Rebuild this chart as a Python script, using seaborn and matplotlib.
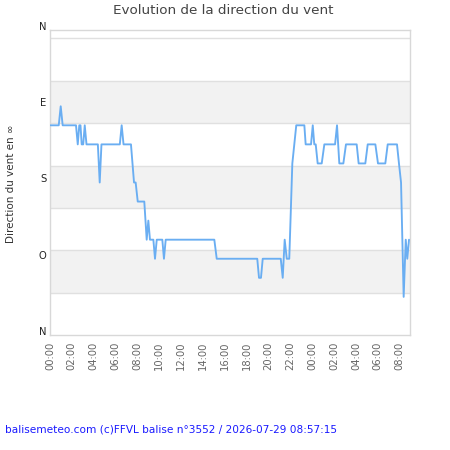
import matplotlib
matplotlib.use("Agg")
import matplotlib.pyplot as plt
import seaborn as sns
import pandas as pd

# ---- data (hours since 00:00 of first day, wind direction in degrees) ----
hours = [0.06, 0.80, 0.98, 1.16, 2.38, 2.54, 2.68, 2.79, 2.90, 3.04, 3.18, 3.34,
         4.38, 4.55, 4.71, 6.39, 6.56, 6.73, 7.41, 7.69, 7.84, 8.03, 8.63, 8.85,
         9.00, 9.15, 9.46, 9.61, 9.77, 10.28, 10.43, 10.59, 15.04, 15.26, 18.97,
         19.13, 19.31, 19.47, 21.12, 21.30, 21.48, 21.67, 21.90, 22.18, 22.36,
         22.54, 23.28, 23.40, 23.89, 24.05, 24.19, 24.32, 24.50, 24.87, 25.11,
         26.09, 26.27, 26.48, 26.85, 27.09, 28.07, 28.25, 28.86, 29.08, 29.78,
         30.02, 30.69, 30.91, 31.76, 31.94, 32.13, 32.37, 32.56, 32.70, 32.86]
direction = [247.5, 247.5, 270, 247.5, 247.5, 225, 247.5, 247.5, 225, 225, 247.5, 225,
             225, 180, 225, 225, 247.5, 225, 225, 180, 180, 157.5, 157.5, 112.5,
             135, 112.5, 112.5, 90, 112.5, 112.5, 90, 112.5, 112.5, 90, 90,
             67.5, 67.5, 90, 90, 67.5, 112.5, 90, 90, 202.5, 225,
             247.5, 247.5, 225, 225, 247.5, 225, 225, 202.5, 202.5, 225,
             225, 247.5, 202.5, 202.5, 225, 225, 202.5, 202.5, 225, 225,
             202.5, 202.5, 225, 225, 202.5, 180, 45, 112.5, 90, 112.5]

ytick_values = [0, 90, 180, 270, 360]
ytick_labels = ["N", "O", "S", "E", "N"]
xtick_hours = list(range(0, 33, 2))
xtick_labels = ["%02d:00" % (h % 24) for h in xtick_hours]

title = "Evolution de la direction du vent"
ylabel = "Direction du vent en \u221e"
footer = "balisemeteo.com (c)FFVL balise n\u00b03552 / 2026-07-29 08:57:15"

df = pd.DataFrame({"heure": hours, "direction": direction})

sns.set_style("white")
plt.rcParams["font.family"] = ["DejaVu Sans"]

fig = plt.figure(figsize=(4.5, 4.5), dpi=100)
ax = fig.add_axes([50 / 450, 115 / 450, 360 / 450, 305 / 450])

# alternating bands and grid lines
for lo in (50, 150, 250):
    ax.axhspan(lo, lo + 50, color="#f2f2f2", lw=0, zorder=0)
for g in range(50, 360, 50):
    ax.axhline(g, color="#e0e0e0", lw=1, zorder=1)

sns.lineplot(data=df, x="heure", y="direction", ax=ax, color="#6aaef2",
             lw=1.35, estimator=None, sort=False, zorder=3)

ax.set_xlim(0, 32.95)
ax.set_ylim(0, 360)
ax.set_xlabel("")
ax.set_ylabel("")

ax.set_yticks(ytick_values)
ax.set_yticklabels(ytick_labels, fontsize=7.2, color="#222222")
for lab in ax.get_yticklabels():
    lab.set_va("baseline")
ax.tick_params(axis="y", length=0, pad=2.5)

ax.set_xticks(xtick_hours)
ax.set_xticklabels(xtick_labels, rotation=90, fontsize=7.2, color="#666666")
ax.tick_params(axis="x", length=0, pad=5)

for sp in ax.spines.values():
    sp.set_color("#d8d8d8")
    sp.set_linewidth(1)
    sp.set_visible(True)

fig.text(223.5 / 450, 1 - 11 / 450, title, ha="center", va="center",
         fontsize=9.7, color="#444444")
fig.text(11 / 450, 1 - 183.5 / 450, ylabel, rotation=90, ha="center",
         va="center", fontsize=7.5, color="#333333")
fig.text(5 / 450, 1 - 429 / 450, footer, ha="left", va="center",
         fontsize=7.6, color="#1a1aff")

fig.savefig("out.png", dpi=100, facecolor="white")
